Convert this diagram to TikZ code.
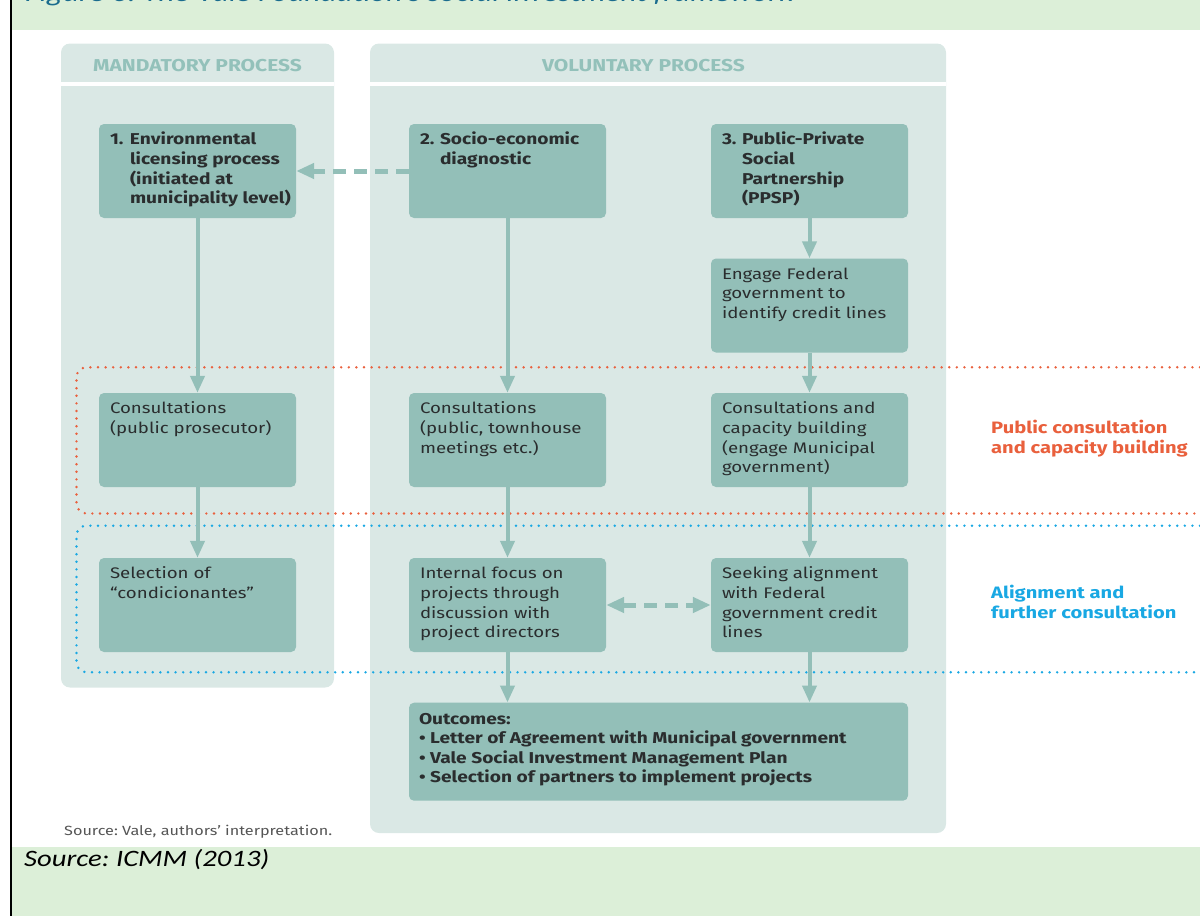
\documentclass[tikz,border=0pt]{standalone}
\usepackage{fontspec}
\setmainfont{Fira Sans}[FakeStretch=1.22]
\newfontfamily\calfont{Carlito}[FakeStretch=1.22]
\usetikzlibrary{arrows.meta}
\frenchspacing
\definecolor{bandc}{HTML}{DCEFD8}
\definecolor{panelc}{HTML}{DAE8E5}
\definecolor{boxc}{HTML}{93BFB8}
\definecolor{hdrc}{HTML}{93C1BA}
\definecolor{textc}{HTML}{2A2D2E}
\definecolor{redc}{HTML}{E9603D}
\definecolor{bluec}{HTML}{19A8E3}
\definecolor{titlec}{HTML}{1A6C8E}
\definecolor{srcc}{HTML}{555555}
\newcommand{\lines}[1]{\begin{tabular}[t]{@{}l@{}}#1\end{tabular}}
\newcommand{\numlines}[2]{\begin{tabular}[t]{@{}l@{}l@{}}\makebox[20pt][l]{#1}&#2\end{tabular}}
\begin{document}
\begin{tikzpicture}[x=1pt,y=-1pt,
  box/.style={fill=boxc, rounded corners=5pt, minimum width=197pt, minimum height=94pt, inner sep=0pt, draw=none},
  txt/.style={anchor=base west, inner sep=0pt, text=textc, font=\fontsize{15.3}{19.6}\selectfont},
  btxt/.style={txt, font=\fontsize{15.7}{19.6}\selectfont\bfseries},
  hdr/.style={inner sep=0pt, text=hdrc, font=\fontsize{17.2}{19}\selectfont\bfseries},
  zone/.style={anchor=base west, inner sep=0pt, font=\fontsize{16.5}{20.2}\selectfont\bfseries},
  flow/.style={draw=boxc, line width=4pt, -{Triangle[width=14pt,length=17pt]}},
  dflow/.style={draw=boxc, line width=5pt, dash pattern=on 13pt off 8pt},
  dotline/.style={line width=2.7pt, dash pattern=on 0pt off 7.6pt, line cap=round, rounded corners=10pt}
]
\useasboundingbox (0,0) rectangle (1200,916);
% bands
\fill[bandc] (12,0) rectangle (1200,30);
\fill[bandc] (12,847) rectangle (1200,916);
\draw[black, line width=1.5pt] (11,0) -- (11,916);
\node[anchor=base west, inner sep=0pt, text=titlec, font=\calfont\itshape\fontsize{25.7}{28}\selectfont] (title) at (25,1) {Figure 6: The Vale Foundation’s social investment framework};
\node[anchor=base west, inner sep=0pt, text=black, font=\calfont\itshape\fontsize{23.5}{26}\selectfont] (icmm) at (24,866.5) {Source: ICMM (2013)};
% panels
\fill[panelc, rounded corners=9pt] (61,43.5) rectangle (334,687.5);
\fill[panelc, rounded corners=9pt] (370,43.5) rectangle (946,833);
\draw[white, line width=4pt] (61,83.7) -- (334,83.7);
\draw[white, line width=4pt] (370,83.7) -- (946,83.7);
\node[hdr] (hm) at (197.5,65.5) {MANDATORY PROCESS};
\node[hdr] (hv) at (643.5,65.5) {VOLUNTARY PROCESS};
% zones
\draw[dotline, redc] (1200,367.3) -- (76.5,367.3) -- (76.5,513.5) -- (1200,513.5);
\draw[dotline, bluec] (1200,525.7) -- (76.5,525.7) -- (76.5,672.3) -- (1200,672.3);
\node[zone, text=redc] (zr) at (991,433) {\lines{Public consultation\\and capacity building}};
\node[zone, text=bluec] (zb) at (991,598) {\lines{Alignment and\\further consultation}};
% boxes
\node[box] (b1) at (197.5,171) {};
\node[box] (b2) at (507.5,171) {};
\node[box] (b3) at (809.5,171) {};
\node[box] (e3) at (809.5,305.5) {};
\node[box] (c1) at (197.5,440) {};
\node[box] (c2) at (507.5,440) {};
\node[box] (c3) at (809.5,440) {};
\node[box] (s1) at (197.5,605) {};
\node[box] (s2) at (507.5,605) {};
\node[box] (s3) at (809.5,605) {};
\node[box, minimum width=499pt, minimum height=98pt] (out) at (658.5,751.7) {};
% texts
\node[btxt] at ([shift={(11,21)}]b1.north west) {\numlines{1.}{Environmental\\&licensing process\\&(initiated at\\&municipality level)}};
\node[btxt] at ([shift={(11,21)}]b2.north west) {\numlines{2.}{Socio-economic\\&diagnostic}};
\node[btxt] at ([shift={(11,21)}]b3.north west) {\numlines{3.}{Public-Private\\&Social\\&Partnership\\&(PPSP)}};
\node[txt] at ([shift={(11,21)}]e3.north west) {\lines{Engage Federal\\government to\\identify credit lines}};
\node[txt] at ([shift={(11,21)}]c1.north west) {\lines{Consultations\\(public prosecutor)}};
\node[txt] at ([shift={(11,21)}]c2.north west) {\lines{Consultations\\(public, townhouse\\meetings etc.)}};
\node[txt] at ([shift={(11,21)}]c3.north west) {\lines{Consultations and\\capacity building\\(engage Municipal\\government)}};
\node[txt] at ([shift={(11,21)}]s1.north west) {\lines{Selection of\\“condicionantes”}};
\node[txt] at ([shift={(11,21)}]s2.north west) {\lines{Internal focus on\\projects through\\discussion with\\project directors}};
\node[txt] at ([shift={(11,21)}]s3.north west) {\lines{Seeking alignment\\with Federal\\government credit\\lines}};
\node[btxt] at ([shift={(10,21.5)}]out.north west) {\lines{Outcomes:\\• Letter of Agreement with Municipal government\\• Vale Social Investment Management Plan\\• Selection of partners to implement projects}};
% arrows
\draw[flow] (b1.south) -- (c1.north);
\draw[flow] (c1.south) -- (s1.north);
\draw[flow] (b2.south) -- (c2.north);
\draw[flow] (c2.south) -- (s2.north);
\draw[flow] (s2.south) -- (s2.south |- out.north);
\draw[flow] (b3.south) -- (e3.north);
\draw[flow] (e3.south) -- (c3.north);
\draw[flow] (c3.south) -- (s3.north);
\draw[flow] (s3.south) -- (s3.south |- out.north);
\draw[dflow, -{Triangle[width=15pt,length=18pt]}] (b2.west) -- (b1.east);
\draw[dflow, {Triangle[width=15pt,length=18pt]}-{Triangle[width=15pt,length=18pt]}] (s2.east) -- (s3.west);
% source
\node[anchor=base west, inner sep=0pt, text=srcc, font=\fontsize{13.3}{15}\selectfont] (src) at (64,835) {Source: Vale, authors’ interpretation.};
\end{tikzpicture}
\end{document}
